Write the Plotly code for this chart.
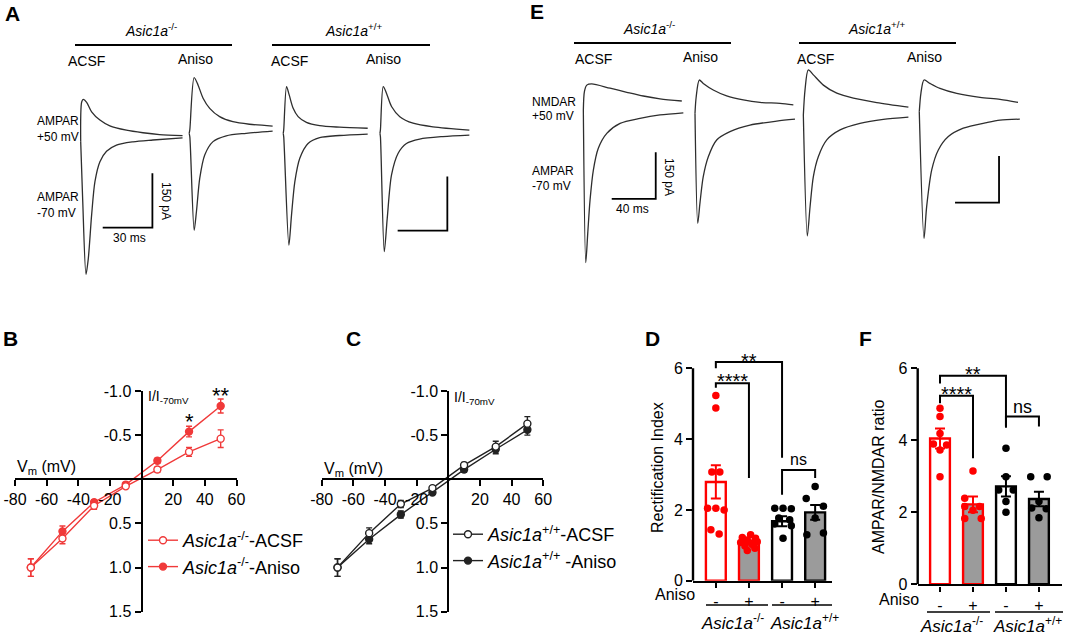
import plotly.graph_objects as go

W, H = 1065, 636
FONT = "Liberation Sans, Arial, sans-serif"
RED = "#ff0000"
RED_IV = "#f03a3a"
GRAY_FILL = "#9b9b9b"
TRACE_C = "#2e2e2e"
IV_BLACK = "#222222"

# ===================== DATA =====================
# ---- Panel A: AMPAR EPSCs (time ms, current pA relative to each sweep start) ----
a1_up_t = [0, 0.6, 1.6, 3.6, 6.6, 11.6, 17.6, 27.6, 37.6, 47.6, 61.5]
a1_up_i = [0, 110, 117, 109, 83, 60, 44, 32, 25, 20, 17]
a1_dn_t = [0, 1.2, 3.2, 4.6, 6.6, 8.6, 11.6, 15.6, 21.6, 31.6, 43.6, 61.5]
a1_dn_i = [0, -161, -366, -322, -202, -110, -55, -26, -9, 0, 5, 11]

a2_up_t = [0, 0.4, 3.0, 5.4, 8.4, 12.4, 18.4, 26.4, 36.4, 50.4]
a2_up_i = [0, 10, 154, 133, 97, 69, 46, 32, 25, 20]
a2_dn_t = [0, 0.4, 3.0, 4.4, 6.4, 9.4, 14.4, 22.4, 34.4, 50.4]
a2_dn_i = [0, -10, -268, -216, -124, -60, -23, -7, 0, 6]

a3_up_t = [0, 0.3, 2.0, 3.6, 6.0, 9.0, 14.0, 22.0, 34.0, 51.0]
a3_up_i = [0, 10, 129, 106, 69, 46, 30, 21, 17, 14]
a3_dn_t = [0, 0.3, 3.4, 5.0, 7.0, 10.0, 15.0, 22.0, 34.0, 51.0]
a3_dn_i = [0, -10, -309, -226, -134, -69, -28, -12, -6, -2]

a4_up_t = [0, 0.3, 2.0, 4.0, 7.0, 12.0, 20.0, 32.0, 54.0]
a4_up_i = [0, 10, 129, 110, 74, 46, 28, 18, 9]
a4_dn_t = [0, 0.3, 2.6, 4.4, 7.0, 11.0, 16.0, 24.0, 38.0, 54.0]
a4_dn_i = [0, -10, -327, -235, -115, -55, -28, -16, -9, -5]

# ---- Panel E: NMDAR (+50 mV) / AMPAR (-70 mV) EPSCs ----
e1_up_t = [0, 1.0, 3.1, 7.6, 24.3, 39.5, 54.5, 69.7, 89.5]
e1_up_i = [0, 60, 80, 84, 70, 57, 45, 36, 29]
e1_dn_t = [0, 2.2, 4.0, 6.1, 9.1, 13.6, 21.3, 33.4, 51.5, 69.7, 90.9]
e1_dn_i = [0, -491, -396, -289, -193, -123, -75, -43, -27, -16, -9]

e2_up_t = [0, 1.0, 3.9, 7.5, 16.6, 28.8, 43.9, 59.1, 77.3, 89.4]
e2_up_i = [0, 50, 107, 96, 75, 56, 43, 35, 32, 27]
e2_dn_t = [0, 2.5, 4.5, 7.5, 12.1, 19.7, 31.8, 50.0, 74.3, 90.9]
e2_dn_i = [0, -354, -289, -204, -140, -86, -59, -38, -25, -19]

e3_up_t = [0, 1.5, 4.5, 9.1, 18.2, 30.4, 45.5, 66.7, 95.5]
e3_up_i = [0, 80, 145, 129, 96, 70, 54, 40, 25]
e3_dn_t = [0, 3.6, 6.1, 9.1, 13.6, 21.3, 33.4, 51.5, 72.7, 95.5]
e3_dn_i = [0, -389, -295, -198, -134, -80, -48, -27, -14, -7]

e4_up_t = [0, 1.5, 4.3, 9.7, 18.8, 34.0, 55.2, 73.4, 89.7]
e4_up_i = [0, 60, 102, 91, 75, 59, 46, 40, 30]
e4_dn_t = [0, 4.3, 6.7, 11.3, 17.3, 26.4, 40.0, 61.3, 73.4, 91.4]
e4_dn_i = [0, -407, -305, -187, -123, -80, -53, -35, -27, -24]

SCALE_A = (30, 150)   # ms, pA
SCALE_E = (40, 150)

# ---- Panels B, C: I-V curves ----
vm = [-70, -50, -30, -10, 10, 30, 50]
vm_ticks = [-80, -60, -40, -20, 20, 40, 60]
vm_ticktext = ["-80", "-60", "-40", "-20", "20", "40", "60"]
iv_ticks = [-1.0, -0.5, 0.5, 1.0, 1.5]
iv_ticktext = ["-1.0", "-0.5", "0.5", "1.0", "1.5"]

b_acsf = [1.00, 0.67, 0.30, 0.08, -0.11, -0.31, -0.46]
b_acsf_err = [0.10, 0.06, 0.04, 0.02, 0.03, 0.05, 0.10]
b_aniso = [1.00, 0.59, 0.26, 0.06, -0.21, -0.54, -0.83]
b_aniso_err = [0.10, 0.06, 0.03, 0.02, 0.03, 0.06, 0.08]

c_acsf = [1.00, 0.61, 0.28, 0.10, -0.16, -0.37, -0.63]
c_acsf_err = [0.10, 0.06, 0.04, 0.02, 0.03, 0.06, 0.08]
c_aniso = [1.00, 0.68, 0.40, 0.15, -0.11, -0.34, -0.56]
c_aniso_err = [0.10, 0.05, 0.04, 0.02, 0.03, 0.05, 0.06]

# ---- Panel D: Rectification index ----
group_ticktext = ["-", "+", "-", "+"]
d_means = [2.79, 1.08, 1.68, 1.93]
d_sem = [0.47, 0.06, 0.14, 0.21]
d_pts = [
    [5.23, 4.88, 3.07, 3.07, 2.05, 2.05, 2.00, 1.44, 1.32],
    [1.30, 1.22, 1.20, 1.15, 1.10, 1.08, 1.02, 0.98, 0.92, 0.85],
    [2.05, 2.05, 2.03, 1.77, 1.72, 1.60, 1.55, 1.20],
    [2.66, 2.32, 2.10, 1.77, 1.30, 1.35],
]
d_jit = [
    [0, 0, -0.12, 0.12, -0.25, 0, 0.25, -0.15, 0.10],
    [0.05, -0.2, 0.2, -0.05, 0.25, -0.25, 0.1, -0.12, 0.18, -0.05],
    [-0.22, 0.03, 0.28, -0.1, 0.23, -0.22, 0.28, 0.03],
    [0, -0.27, 0.25, 0, -0.25, 0.25],
]

# ---- Panel F: AMPAR/NMDAR ratio ----
f_means = [4.05, 2.22, 2.72, 2.37]
f_sem = [0.28, 0.22, 0.28, 0.20]
f_pts = [
    [4.89, 4.66, 4.19, 3.90, 3.87, 3.73, 2.99],
    [3.15, 2.39, 2.16, 2.16, 2.06, 1.83, 1.83],
    [3.78, 2.99, 2.62, 2.62, 2.30, 2.00],
    [2.99, 2.99, 2.30, 2.12, 2.10, 1.85],
]
f_jit = [
    [0, 0, 0, -0.2, 0.2, 0, 0],
    [0, -0.25, -0.25, 0.2, 0, -0.25, 0.25],
    [0, 0, -0.22, 0.22, 0, 0],
    [-0.25, 0.25, 0, -0.22, 0.22, 0],
]

# ===================== LAYOUT HELPERS =====================
def X(p):
    return p / W


def Y(p):
    return 1 - p / H


fig = go.Figure()

# ---- trace panels (A -> x/y, E -> x2/y2) ----
A_PX_MS, A_PX_PA = 1.656, 0.362
E_PX_MS, E_PX_PA = 1.10, 0.311
A_START = [12.5, 78.0, 134.8, 193.2]
A_BASE = [-5, 18.5, 18.5, 18.5]
E_START = [48.5, 150.0, 248.5, 353.9]
E_BASE = [0, -10.6, -16, -5.5]

a_sweeps = [(a1_up_t, a1_up_i, a1_dn_t, a1_dn_i), (a2_up_t, a2_up_i, a2_dn_t, a2_dn_i),
            (a3_up_t, a3_up_i, a3_dn_t, a3_dn_i), (a4_up_t, a4_up_i, a4_dn_t, a4_dn_i)]
e_sweeps = [(e1_up_t, e1_up_i, e1_dn_t, e1_dn_i), (e2_up_t, e2_up_i, e2_dn_t, e2_dn_i),
            (e3_up_t, e3_up_i, e3_dn_t, e3_dn_i), (e4_up_t, e4_up_i, e4_dn_t, e4_dn_i)]

for sweeps, starts, bases, xa, ya in [(a_sweeps, A_START, A_BASE, "x", "y"),
                                      (e_sweeps, E_START, E_BASE, "x2", "y2")]:
    for k, (ut, ui, dt, di) in enumerate(sweeps):
        for tt, ii in [(ut, ui), (dt, di)]:
            fig.add_trace(go.Scatter(
                x=[t + starts[k] for t in tt], y=[v + bases[k] for v in ii],
                xaxis=xa, yaxis=ya, mode="lines",
                line=dict(color=TRACE_C, width=1.3, shape="spline", smoothing=0.8),
                showlegend=False, hoverinfo="skip"))

# ---- I-V panels ----
def iv_trace(y, err, color, filled, name, xa, ya, legend, rank):
    return go.Scatter(
        x=vm, y=y, xaxis=xa, yaxis=ya, mode="lines+markers", name=name,
        legend=legend, legendrank=rank,
        line=dict(color=color, width=1.4),
        marker=dict(symbol="circle", size=7, color=color if filled else "white",
                    line=dict(color=color, width=1.4)),
        error_y=dict(type="data", array=err, color=color, thickness=1.4, width=3),
        hoverinfo="skip")

fig.add_trace(iv_trace(b_aniso, b_aniso_err, RED_IV, True,
                       "<i>Asic1a</i><sup>-/-</sup>-Aniso", "x3", "y3", "legend", 2))
fig.add_trace(iv_trace(b_acsf, b_acsf_err, RED_IV, False,
                       "<i>Asic1a</i><sup>-/-</sup>-ACSF", "x3", "y3", "legend", 1))
fig.add_trace(iv_trace(c_aniso, c_aniso_err, IV_BLACK, True,
                       "<i>Asic1a</i><sup>+/+</sup> -Aniso", "x4", "y4", "legend2", 2))
fig.add_trace(iv_trace(c_acsf, c_acsf_err, IV_BLACK, False,
                       "<i>Asic1a</i><sup>+/+</sup>-ACSF", "x4", "y4", "legend2", 1))

# ---- bar panels ----
bar_fill = ["white", GRAY_FILL, "white", GRAY_FILL]
bar_edge = [RED, RED, "black", "black"]
for means, sems, pts, jit, xa, ya in [(d_means, d_sem, d_pts, d_jit, "x5", "y5"),
                                      (f_means, f_sem, f_pts, f_jit, "x6", "y6")]:
    for g in range(4):
        fig.add_trace(go.Bar(
            x=[g], y=[means[g]], width=0.6, xaxis=xa, yaxis=ya,
            marker=dict(color=bar_fill[g], line=dict(color=bar_edge[g], width=2.4)),
            error_y=dict(type="data", array=[sems[g]], color=bar_edge[g], thickness=2, width=5),
            showlegend=False, hoverinfo="skip"))
    for g in range(4):
        fig.add_trace(go.Scatter(
            x=[g + j for j in jit[g]], y=pts[g], xaxis=xa, yaxis=ya, mode="markers",
            marker=dict(size=7.5, color=bar_edge[g]), showlegend=False, hoverinfo="skip"))

# ===================== AXES =====================
hidden = dict(visible=False, fixedrange=True, showgrid=False, zeroline=False, automargin=False)
layout = dict(
    xaxis=dict(domain=[X(60), X(480)], range=[0, 420 / A_PX_MS], anchor="y", **hidden),
    yaxis=dict(domain=[Y(290), Y(60)], range=[-(290 - 140) / A_PX_PA, (140 - 60) / A_PX_PA],
               anchor="x", **hidden),
    xaxis2=dict(domain=[X(530), X(1065)], range=[0, 535 / E_PX_MS], anchor="y2", **hidden),
    yaxis2=dict(domain=[Y(280), Y(60)], range=[-(280 - 110) / E_PX_PA, (110 - 60) / E_PX_PA],
                anchor="x2", **hidden),
)

axis_common = dict(showline=True, linecolor="black", linewidth=2, ticks="outside",
                   ticklen=6, tickwidth=2, tickcolor="black", showgrid=False,
                   zeroline=False, tickfont=dict(size=16, color="black", family=FONT),
                   fixedrange=True, automargin=False)

for xn, yn, x0, x1 in [("xaxis3", "yaxis3", 15, 236.5), ("xaxis4", "yaxis4", 321.7, 543.2)]:
    yzero_px = 391 + (611.7 - 391) * (1.0 / 2.5)
    xzero_px = x0 + (x1 - x0) * (80 / 140)
    layout[xn] = dict(domain=[X(x0), X(x1)], range=[-80, 60], anchor="free",
                      position=Y(yzero_px), tickvals=vm_ticks, ticktext=vm_ticktext,
                      **axis_common)
    layout[yn] = dict(domain=[Y(611.7), Y(391)], range=[1.5, -1.0], anchor="free",
                      position=X(xzero_px), tickvals=iv_ticks, ticktext=iv_ticktext,
                      **axis_common)

bar_axis = dict(axis_common)
for xn, yn, x0, x1, y0px, y6px, xr in [("xaxis5", "yaxis5", 693, 831.7, 580.7, 368.3, [-0.69, 3.5]),
                                       ("xaxis6", "yaxis6", 917.7, 1061.7, 584.3, 368.3, [-0.676, 3.69])]:
    ytop = y0px - (y0px - y6px) / 6 * 6.6
    kx = dict(bar_axis)
    kx.update(linewidth=2.4, ticklen=5)
    layout[xn] = dict(domain=[X(x0), X(x1)], range=xr, anchor=yn.replace("axis", ""),
                      tickvals=[0, 1, 2, 3], ticktext=group_ticktext, **kx)
    ky = dict(bar_axis)
    ky.update(showline=False)
    layout[yn] = dict(domain=[Y(y0px), Y(ytop)], range=[0, 6.6], anchor=xn.replace("axis", ""),
                      tickvals=[0, 2, 4, 6], **ky)

# ===================== SHAPES =====================
shapes = []

def pline(x0, y0, x1, y1, w=2):
    shapes.append(dict(type="line", xref="paper", yref="paper", x0=X(x0), y0=Y(y0),
                       x1=X(x1), y1=Y(y1), line=dict(color="black", width=w)))

# header bars
pline(75, 45, 232, 45); pline(272, 45, 430, 45)
pline(574, 43, 731, 43); pline(799, 43, 956, 43)
# group lines under D and F
pline(706, 605, 768, 605, 1.6); pline(772, 605, 832, 605, 1.6)
pline(927, 612, 990, 612, 1.6); pline(995, 612, 1063, 612, 1.6)

# scale bars (data coordinates of trace panels)
def scalebar(xa, ya, x_right, y_bottom, ms, pa):
    shapes.append(dict(type="path", xref=xa, yref=ya,
                       path=f"M{x_right - ms},{y_bottom} L{x_right},{y_bottom} L{x_right},{y_bottom + pa}",
                       line=dict(color="black", width=1.8)))

scalebar("x", "y", 55.8, -242, *SCALE_A)
scalebar("x", "y", 233.9, -250.5, *SCALE_A)
scalebar("x2", "y2", 114.3, -286, *SCALE_E)
scalebar("x2", "y2", 426.4, -298, *SCALE_E)

# y-axis lines of bar panels (0..6)
for xa, ya in [("x5", "y5"), ("x6", "y6")]:
    shapes.append(dict(type="line", xref=f"{xa} domain", yref=ya, x0=0, x1=0, y0=0, y1=6,
                       line=dict(color="black", width=2.4)))

# significance brackets
def bracket(xa, ya, xl, yl, xr, ytop, yr):
    shapes.append(dict(type="path", xref=xa, yref=ya,
                       path=f"M{xl},{yl} L{xl},{ytop} L{xr},{ytop} L{xr},{yr}",
                       line=dict(color="black", width=2)))

bracket("x5", "y5", 0, 6.0, 2, 6.18, 3.47)
bracket("x5", "y5", 0, 5.45, 1, 5.58, 2.9)
bracket("x5", "y5", 2, 2.43, 3, 3.13, 2.9)
bracket("x6", "y6", 0, 5.58, 2, 5.79, 4.35)
bracket("x6", "y6", 0, 5.03, 1, 5.24, 3.5)
bracket("x6", "y6", 2, 4.38, 3, 4.66, 4.38)

# ===================== ANNOTATIONS =====================
ann = []

def T(x, y, s, size=14, xanchor="center", yanchor="middle", angle=0, bold=False):
    ann.append(dict(x=X(x), y=Y(y), xref="paper", yref="paper", text=(f"<b>{s}</b>" if bold else s),
                    showarrow=False, xanchor=xanchor, yanchor=yanchor, textangle=angle,
                    font=dict(size=size, family=FONT, color="black")))

def D(xa, ya, x, y, s, size=18, yshift=0):
    ann.append(dict(x=x, y=y, xref=xa, yref=ya, text=s, showarrow=False, yshift=yshift,
                    xanchor="center", yanchor="middle",
                    font=dict(size=size, family=FONT, color="black")))

KO = "<i>Asic1a</i><sup>-/-</sup>"
WT = "<i>Asic1a</i><sup>+/+</sup>"

# panel letters
for s, x, y in [("A", 12, 14), ("E", 537, 12), ("B", 10, 338), ("C", 353, 338),
                ("D", 652, 338), ("F", 865, 338)]:
    T(x, y, s, size=21, bold=True)

# panel A text
T(151, 30, KO, 14); T(353, 30, WT, 14)
T(86, 61, "ACSF", 14); T(195, 59, "Aniso", 14); T(289, 61, "ACSF", 14); T(383, 59, "Aniso", 14)
T(35, 121, "AMPAR", 12, "left"); T(35, 137, "+50 mV", 12, "left")
T(35, 197, "AMPAR", 12, "left"); T(35, 213, "-70 mV", 12, "left")
T(166, 201, "150 pA", 12, angle=90); T(129, 238, "30 ms", 12)

# panel E text
T(649, 28, KO, 14); T(876, 28, WT, 14)
T(593, 59, "ACSF", 14); T(700, 57, "Aniso", 14); T(815, 59, "ACSF", 14); T(924, 57, "Aniso", 14)
T(530, 102, "NMDAR", 12, "left"); T(530, 116, "+50 mV", 12, "left")
T(530, 171, "AMPAR", 12, "left"); T(530, 186, "-70 mV", 12, "left")
T(669, 177, "150 pA", 12, angle=90); T(632, 209, "40 ms", 12)

# B / C axis labels
T(15, 468, "V<sub>m</sub> (mV)", 16, "left"); T(146, 397, "I/I<sub>-70mV</sub>", 14, "left")
T(322, 469, "V<sub>m</sub> (mV)", 16, "left"); T(452, 398, "I/I<sub>-70mV</sub>", 14, "left")
D("x3", "y3", 30, -0.72, "*", 22, yshift=-6)
D("x3", "y3", 50, -0.98, "**", 22, yshift=-3)

# D labels
T(658, 468, "Rectification Index", 16, angle=-90)
T(697, 594, "Aniso", 16, "right")
T(732, 622, KO, 17); T(804, 622, WT, 17)
D("x5", "y5", 1, 6.38, "**", 20, yshift=-6)
D("x5", "y5", 0.5, 5.8, "****", 20, yshift=-6)
D("x5", "y5", 2.5, 3.42, "ns", 16)

# F labels
T(878, 477, "AMPAR/NMDAR ratio", 16, angle=-90)
T(921, 599, "Aniso", 16, "right")
T(951, 625, KO, 17); T(1027, 625, WT, 17)
D("x6", "y6", 1, 6.0, "**", 20, yshift=-6)
D("x6", "y6", 0.5, 5.45, "****", 20, yshift=-6)
D("x6", "y6", 2.5, 4.92, "ns", 18)

legend_common = dict(xanchor="left", yanchor="top", bgcolor="rgba(0,0,0,0)",
                     font=dict(size=18, family=FONT, color="black"),
                     itemwidth=30, tracegroupgap=0, traceorder="normal")

fig.update_layout(
    width=W, height=H, margin=dict(l=0, r=0, t=0, b=0, pad=0, autoexpand=False),
    paper_bgcolor="white", plot_bgcolor="rgba(0,0,0,0)",
    font=dict(family=FONT, color="black"),
    barmode="overlay", showlegend=True,
    legend=dict(x=X(143), y=Y(522), **legend_common),
    legend2=dict(x=X(448), y=Y(516), **legend_common),
    shapes=shapes, annotations=ann,
    **layout,
)

fig.write_html("out.html", config={"displayModeBar": False},
               post_script="document.body.style.margin='0px';document.body.style.overflow='hidden';")
